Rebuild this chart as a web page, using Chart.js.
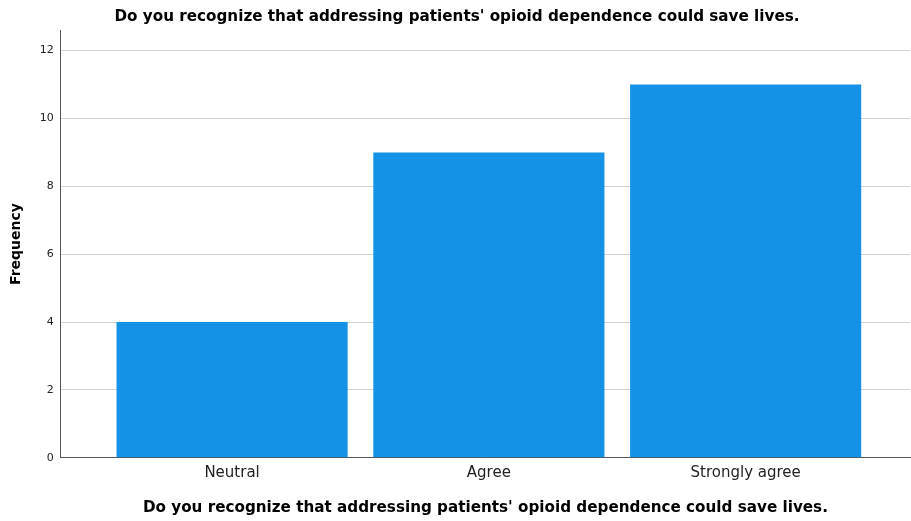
<!DOCTYPE html>
<html>
<head>
<meta charset="utf-8">
<script src="https://cdn.jsdelivr.net/npm/chart.js@4/dist/chart.umd.min.js"></script>
<style>
    html, body { margin: 0; padding: 0; background: #ffffff; }
    #wrap { width: 911px; height: 521px; }
</style>
</head>
<body>
<div id="wrap"><canvas id="freqChart"></canvas></div>
<script>
// Data
const categories = ['Neutral', 'Agree', 'Strongly agree'];
const frequencies = [4, 9, 11];
const yTicks = [0, 2, 4, 6, 8, 10, 12];
const questionText = "Do you recognize that addressing patients' opioid dependence could save lives.";

const barColor = '#1492e6';
const fontFamily = "'DejaVu Sans', 'Liberation Sans', sans-serif";

document.addEventListener('DOMContentLoaded', function() {
    const ctx = document.getElementById('freqChart');

    new Chart(ctx, {
        type: 'bar',
        data: {
            datasets: [{
                label: 'Frequency',
                data: categories.map((c, i) => ({ x: i, y: frequencies[i] })),
                backgroundColor: barColor,
                borderWidth: 0,
                barPercentage: 0.9,
                categoryPercentage: 1.0
            }]
        },
        options: {
            responsive: true,
            maintainAspectRatio: false,
            animation: false,
            layout: {
                padding: { left: 4, right: 1, top: 4, bottom: 4 }
            },
            plugins: {
                legend: { display: false },
                tooltip: { enabled: false },
                title: {
                    display: true,
                    text: questionText,
                    color: '#000000',
                    font: { family: fontFamily, size: 15.2, weight: 'bold' },
                    padding: { top: 4, bottom: 4 }
                }
            },
            scales: {
                x: {
                    type: 'linear',
                    // padding on both sides of the three bars, like SPSS
                    min: -0.667,
                    max: 2.64,
                    offset: false,
                    grid: { display: false, drawTicks: false },
                    border: { color: '#555555', width: 1 },
                    afterBuildTicks: function(scale) {
                        scale.ticks = categories.map((c, i) => ({ value: i }));
                    },
                    ticks: {
                        autoSkip: false,
                        maxRotation: 0,
                        padding: 6,
                        color: '#222222',
                        font: { family: fontFamily, size: 15 },
                        callback: function(value) {
                            return categories[value];
                        }
                    },
                    title: {
                        display: true,
                        text: questionText,
                        color: '#000000',
                        font: { family: fontFamily, size: 15.2, weight: 'bold' },
                        padding: { top: 11, bottom: 0 }
                    }
                },
                y: {
                    min: 0,
                    max: 12.6,
                    afterBuildTicks: function(scale) {
                        scale.ticks = yTicks.map(v => ({ value: v }));
                    },
                    grid: { color: '#d0d0d0', lineWidth: 1, drawTicks: false },
                    border: { color: '#555555', width: 1 },
                    ticks: {
                        padding: 7,
                        color: '#222222',
                        font: { family: fontFamily, size: 11 }
                    },
                    title: {
                        display: true,
                        text: 'Frequency',
                        color: '#000000',
                        font: { family: fontFamily, size: 14, weight: 'bold' },
                        padding: { top: 4, bottom: 8 }
                    }
                }
            }
        }
    });
});
</script>
</body>
</html>
